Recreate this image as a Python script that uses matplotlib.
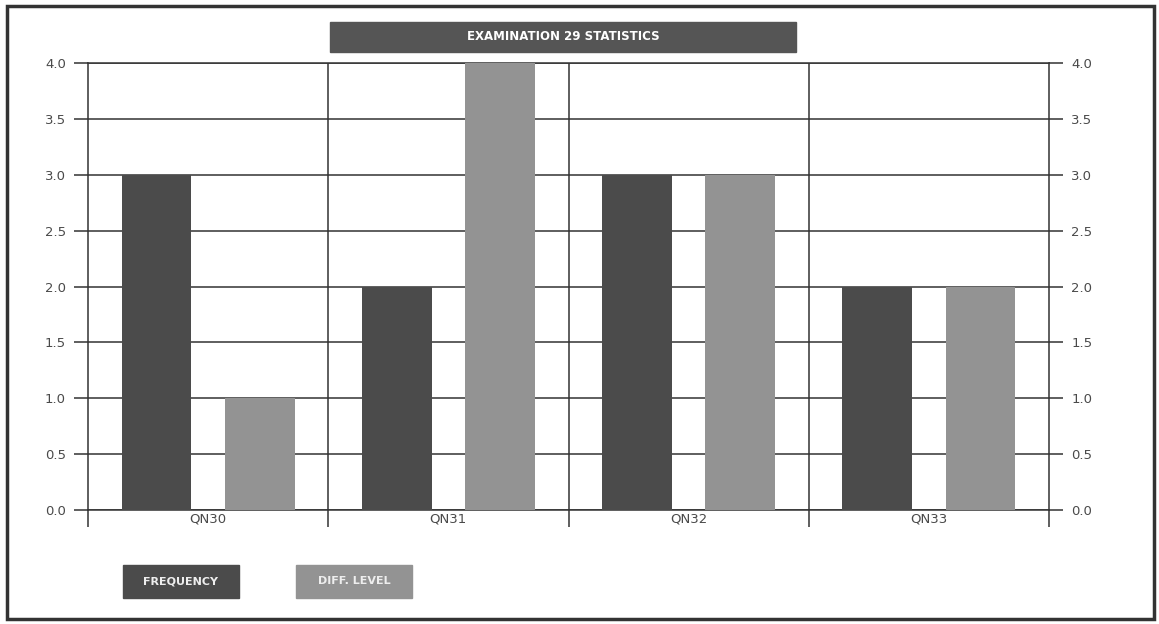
import matplotlib.pyplot as plt
import numpy as np
from matplotlib.patches import Rectangle

# values
questions = ['QN30', 'QN31', 'QN32', 'QN33']
frequency = [3, 2, 3, 2]
diff_level = [1, 4, 3, 2]
y_ticks = [0.0, 0.5, 1.0, 1.5, 2.0, 2.5, 3.0, 3.5, 4.0]

dark = '#4b4b4b'
light = '#939393'
txt = '#4a4a4a'

fig = plt.figure(figsize=(11.59, 6.24), dpi=100)
ax = fig.add_axes([88 / 1159, 1 - 510 / 624, (1049 - 88) / 1159, (510 - 63) / 624])

x = np.arange(len(questions))
w = 0.29
ax.bar(x - 0.215, frequency, width=w, color=dark, zorder=3)
ax.bar(x + 0.215, diff_level, width=w, color=light, zorder=3)

ax.set_xlim(-0.5, len(questions) - 0.5)
ax.set_ylim(0, 4)
ax.set_yticks(y_ticks)
ax.set_yticklabels(['%.1f' % v for v in y_ticks])
ax.yaxis.grid(True, color='#333333', lw=1.1, zorder=1)
ax.tick_params(axis='y', direction='out', length=10, width=1.1, color='#333333',
               labelsize=9.5, labelcolor=txt, right=True, labelright=True, pad=6)

# category separators
for b in np.arange(0.5, len(questions) - 0.5, 1):
    ax.axvline(b, color='#333333', lw=1.1, zorder=2)
ax.set_xticks(np.arange(-0.5, len(questions), 1))
ax.set_xticklabels([''] * (len(questions) + 1))
ax.set_xticks(x, minor=True)
ax.set_xticklabels(questions, minor=True)
ax.tick_params(axis='x', which='major', direction='out', length=12, width=1.1, color='#333333')
ax.tick_params(axis='x', which='minor', length=0, labelsize=9.5, labelcolor=txt, pad=2)

for s in ax.spines.values():
    s.set_color('#333333')
    s.set_linewidth(1.1)

# title box
fig.patches.append(Rectangle((330 / 1159, 1 - 52 / 624), 466 / 1159, 30 / 624,
                             transform=fig.transFigure, color='#555555', zorder=5))
fig.text(563 / 1159, 1 - 37 / 624, 'EXAMINATION 29 STATISTICS', color='white',
         fontsize=8.5, fontweight='bold', ha='center', va='center', zorder=6)

# legend boxes
for x0, col, lab in [(123, dark, 'FREQUENCY'), (296, light, 'DIFF. LEVEL')]:
    fig.patches.append(Rectangle((x0 / 1159, 1 - 598 / 624), 116 / 1159, 33 / 624,
                                 transform=fig.transFigure, color=col, zorder=5))
    fig.text((x0 + 58) / 1159, 1 - 581 / 624, lab, color='#eeeeee', fontsize=8,
             fontweight='bold', ha='center', va='center', zorder=6)

# outer frame
fig.patches.append(Rectangle((7 / 1159, 5 / 624), 1147 / 1159, 613 / 624,
                             transform=fig.transFigure, fill=False,
                             edgecolor='#333333', lw=2.5, zorder=7))

fig.savefig('out.png', dpi=100)
